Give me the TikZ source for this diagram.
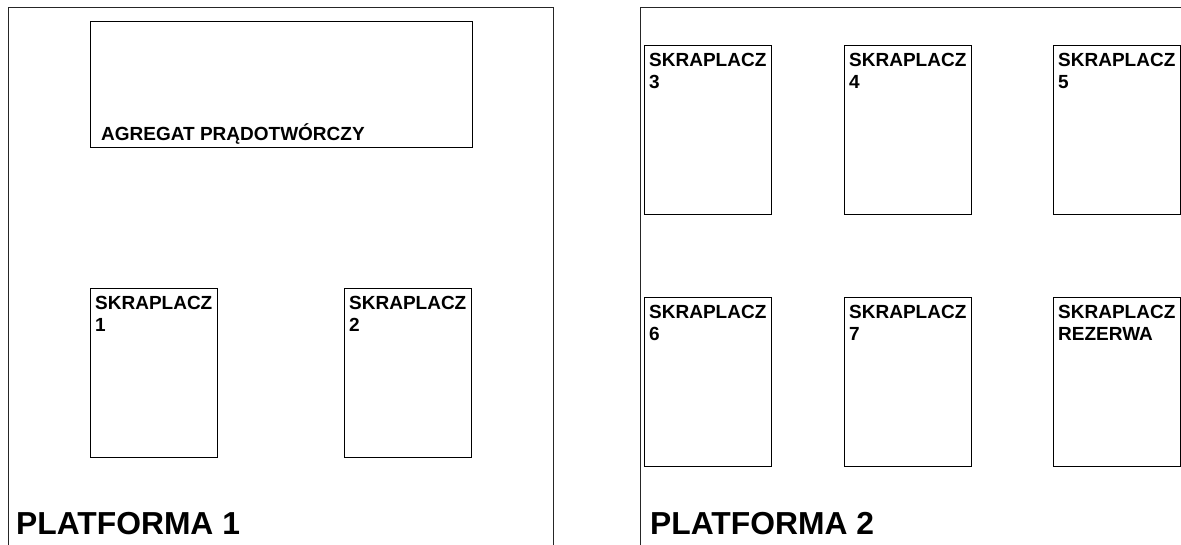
\documentclass[tikz,border=0pt]{standalone}
\usepackage{fontspec}
\setmainfont{Liberation Sans}
\usetikzlibrary{calc}
\tikzset{
  frame/.style={draw=black!85, line width=1pt},
  unitbox/.style={draw=black, line width=1pt, anchor=north west, inner sep=0pt, minimum width=127pt, minimum height=169pt},
  genbox/.style={draw=black, line width=1pt, anchor=north west, inner sep=0pt, minimum width=382pt, minimum height=126pt},
  boxtext/.style={anchor=north west, inner sep=0pt, align=left, font=\bfseries\fontsize{19}{22.5}\selectfont},
  gentext/.style={anchor=base west, inner sep=0pt, font=\bfseries\fontsize{19}{22}\selectfont},
  platname/.style={anchor=base west, inner sep=0pt, font=\bfseries\fontsize{31.8}{36}\selectfont}
}
\begin{document}
\begin{tikzpicture}[x=1pt,y=-1pt]
\useasboundingbox (0,0) rectangle (1181,544);
% platforms
\coordinate (p1a) at (8,570);
\coordinate (p1b) at (8,7);
\coordinate (p1c) at (553,7);
\coordinate (p1d) at (553,570);
\draw[frame] (p1a) -- (p1b) -- (p1c) -- (p1d);
\coordinate (p2a) at (640,570);
\coordinate (p2b) at (640,7);
\coordinate (p2c) at (1200,7);
\draw[frame] (p2a) -- (p2b) -- (p2c);
\node[platname] (pl1) at (16,534.5) {PLATFORMA 1};
\node[platname] (pl2) at (650,534.5) {PLATFORMA 2};
% generator
\node[genbox] (gen) at (90,21) {};
\node[gentext] (gent) at (101,140) {AGREGAT PRĄDOTWÓRCZY};
% condensers
\node[unitbox] (s1) at (90,288) {};
\node[unitbox] (s2) at (344,288) {};
\node[unitbox] (s3) at (644,45) {};
\node[unitbox] (s4) at (844,45) {};
\node[unitbox] (s5) at (1053,45) {};
\node[unitbox] (s6) at (644,297) {};
\node[unitbox] (s7) at (844,297) {};
\node[unitbox] (sr) at (1053,297) {};
\foreach \b/\t in {s1/1,s2/2,s3/3,s4/4,s5/5,s6/6,s7/7,sr/REZERWA}{
  \node[boxtext] (\b t) at ($(\b.north west)+(5,8)$) {SKRAPLACZ\\\t};
}
\end{tikzpicture}
\end{document}
